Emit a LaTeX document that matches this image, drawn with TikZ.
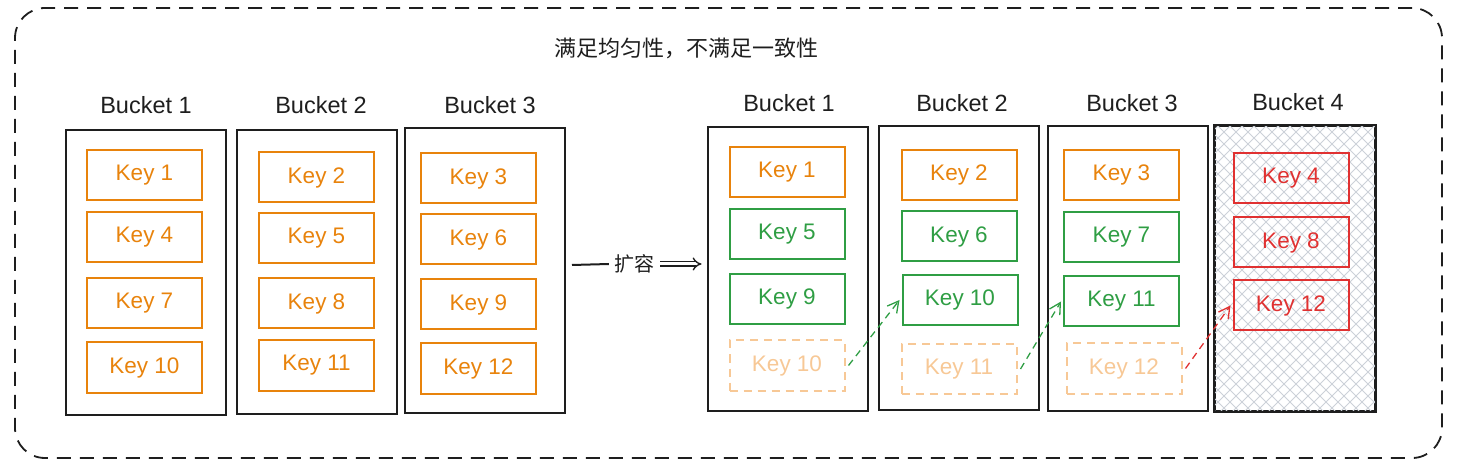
\documentclass[tikz,border=0pt]{standalone}
\usepackage{fontspec}
\setmainfont{Liberation Sans}
\newfontfamily\cjk{Noto Sans CJK SC}
\usetikzlibrary{arrows.meta}
\definecolor{ink}{HTML}{1E1E1E}
\definecolor{kor}{HTML}{E8830C}
\definecolor{kgr}{HTML}{2F9E44}
\definecolor{krd}{HTML}{E03131}
\definecolor{kfd}{HTML}{F7C896}
\definecolor{hatchc}{HTML}{CCD1D8}
\tikzset{
  bucket/.style={draw=ink, line width=2pt, minimum width=160pt, minimum height=284pt, inner sep=0pt},
  blabel/.style={font=\fontsize{23.5}{26}\selectfont, text=ink, inner sep=0pt},
  keyb/.style={draw=#1, text=#1, line width=2pt, minimum width=115pt, minimum height=50pt, inner sep=0pt, font=\fontsize{22.5}{25}\selectfont},
  fadedkey/.style={keyb=kfd, dash pattern=on 8pt off 6pt},
  move/.style={draw=#1, line width=1.3pt, dash pattern=on 7pt off 5pt, -{Straight Barb[length=11pt,width=12pt]}},
  frame/.style={draw=ink, line width=1.8pt, dash pattern=on 14pt off 9pt, rounded corners=30pt, minimum width=1427pt, minimum height=450pt, inner sep=0pt},
}
\begin{document}
\begin{tikzpicture}[x=1pt,y=-1pt]
\useasboundingbox (0,0) rectangle (1462,470);
\node[frame] (frame) at (728.5,233) {};
\node[font=\cjk\fontsize{22}{24}\selectfont, text=ink] (title) at (686,48) {满足均匀性，不满足一致性};

% left buckets
\node[bucket] (L1) at (146,272.5) {};
\node[bucket] (L2) at (317,272) {};
\node[bucket] (L3) at (484.5,270.5) {};
\node[blabel] (L1t) at (146,105) {Bucket 1};
\node[blabel] (L2t) at (321,105) {Bucket 2};
\node[blabel] (L3t) at (490,105) {Bucket 3};

\node[keyb=kor] (L1k1) at (144.5,175) {Key 1};
\node[keyb=kor] (L1k2) at (144.5,237.5) {Key 4};
\node[keyb=kor] (L1k3) at (144.5,303) {Key 7};
\node[keyb=kor] (L1k4) at (144.5,367.5) {Key 10};
\node[keyb=kor] (L2k1) at (316.5,177.5) {Key 2};
\node[keyb=kor] (L2k2) at (316.5,238.5) {Key 5};
\node[keyb=kor] (L2k3) at (316.5,303.5) {Key 8};
\node[keyb=kor] (L2k4) at (316.5,365.5) {Key 11};
\node[keyb=kor] (L3k1) at (478.5,178.5) {Key 3};
\node[keyb=kor] (L3k2) at (478.5,239.5) {Key 6};
\node[keyb=kor] (L3k3) at (478.5,304.5) {Key 9};
\node[keyb=kor] (L3k4) at (478.5,368.5) {Key 12};

% right buckets
\node[bucket] (R1) at (787.5,269) {};
\node[bucket] (R2) at (958.5,268) {};
\node[bucket] (R3) at (1127.5,268.5) {};
\node[bucket] (R4) at (1294.5,268.5) {};
\begin{scope}
  \clip (R4.south west) rectangle (R4.north east);
  \foreach \x in {930,942,...,1670} {
    \draw[hatchc, line width=0.9pt] (\x,126) -- ++(290,290);
    \draw[hatchc, line width=0.9pt] (\x,126) -- ++(-290,290);
  }
\end{scope}
\draw[ink, line width=2pt] (R4.south west) rectangle (R4.north east);

\node[blabel] (R1t) at (789,103) {Bucket 1};
\node[blabel] (R2t) at (962,103) {Bucket 2};
\node[blabel] (R3t) at (1132,103) {Bucket 3};
\node[blabel] (R4t) at (1298,102) {Bucket 4};

\node[keyb=kor] (R1k1) at (787,172) {Key 1};
\node[keyb=kgr] (R1k2) at (787,234) {Key 5};
\node[keyb=kgr] (R1k3) at (787,299) {Key 9};
\node[fadedkey] (R1k4) at (787,365.5) {Key 10};
\node[keyb=kor] (R2k1) at (959,175) {Key 2};
\node[keyb=kgr] (R2k2) at (959,236.5) {Key 6};
\node[keyb=kgr] (R2k3) at (960,300) {Key 10};
\node[fadedkey] (R2k4) at (959,369) {Key 11};
\node[keyb=kor] (R3k1) at (1121.5,175) {Key 3};
\node[keyb=kgr] (R3k2) at (1121.5,237) {Key 7};
\node[keyb=kgr] (R3k3) at (1121.5,301.5) {Key 11};
\node[fadedkey] (R3k4) at (1124,368.5) {Key 12};
\node[keyb=krd] (R4k1) at (1291,178.5) {Key 4};
\node[keyb=krd] (R4k2) at (1291,242.5) {Key 8};
\node[keyb=krd] (R4k3) at (1291,305.5) {Key 12};

% expansion arrow
\node[font=\cjk\fontsize{20}{22}\selectfont, text=ink, inner sep=2pt] (kr) at (634,264) {扩容};
\coordinate (a0) at (572,265);
\draw[ink, line width=2pt] (a0) -- ([xshift=-3pt]kr.west);
\draw[ink, line width=1.4pt, double, double distance=3pt, -{Implies[length=8pt]}] ([xshift=4pt]kr.east) -- ([xshift=-5pt]R1.west |- kr);

% moves
\draw[move=kgr] ([xshift=3pt]R1k4.east) -- ([xshift=-2pt]R2k3.west);
\draw[move=kgr] ([xshift=3pt]R2k4.east) -- ([xshift=-2pt]R3k3.west);
\draw[move=krd] ([xshift=3pt]R3k4.east) -- ([xshift=-2pt]R4k3.west);
\end{tikzpicture}
\end{document}
